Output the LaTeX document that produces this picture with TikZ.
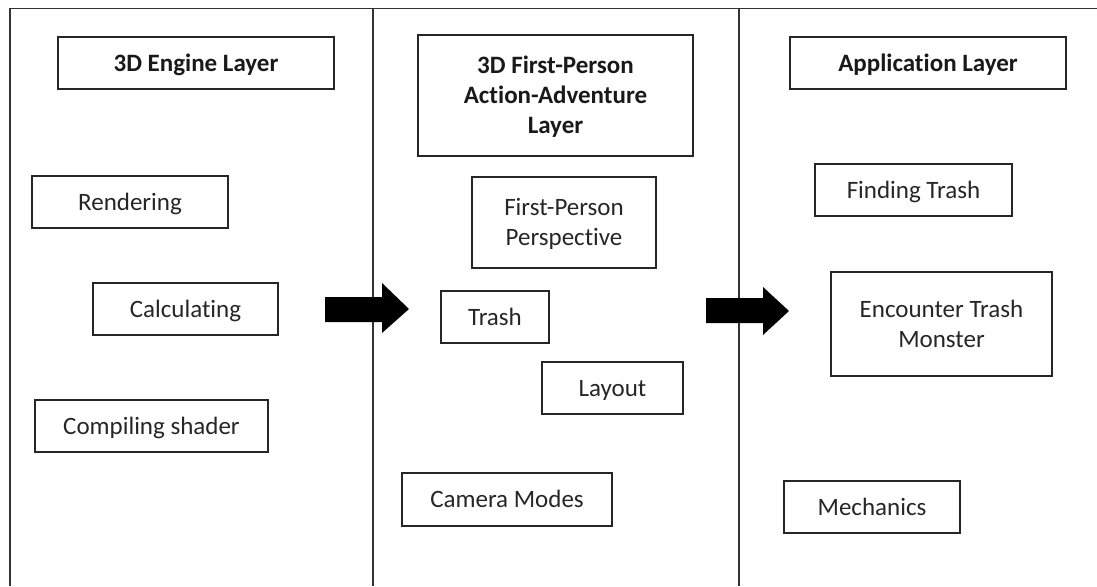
\documentclass[tikz,border=0pt]{standalone}
\usepackage{fontspec}
\setmainfont{Carlito}[Ligatures=NoCommon]
\begin{document}
\begin{tikzpicture}[x=1pt,y=-1pt,
  box/.style={draw=black!85, line width=1.6pt, inner sep=0pt, align=center,
    text=black!85, text height=16pt, text depth=0pt, font=\fontsize{25}{30}\selectfont},
  hbox/.style={box, text=black!90, font=\fontsize{25}{30}\selectfont\bfseries},
  twoline/.style={text height=46pt},
  threeline/.style={text height=76pt},
  framecol/.style={draw=black!80, line width=1.6pt},
  blockarrow/.style={fill=black}]
\useasboundingbox (0,0) rectangle (1097,586);

% frame and column dividers
\draw[framecol] (10,586) -- (10,8.5) -- (1097,8.5);
\draw[framecol] (373,8.5) -- (373,586);
\draw[framecol] (739,8.5) -- (739,586);

% block arrows
\fill[blockarrow] (325,297) -- (382,297) -- (382,283) -- (409,309) -- (382,333) -- (382,322) -- (325,322) -- cycle;
\fill[blockarrow] (706,298) -- (763,298) -- (763,287) -- (789,311) -- (763,335) -- (763,323) -- (706,323) -- cycle;

% column 1
\node[hbox, minimum width=276, minimum height=52] (eng) at (196,63) {3D Engine Layer};
\node[box, minimum width=196, minimum height=52] (rend) at (130,202) {Rendering};
\node[box, minimum width=185, minimum height=52] (calc) at (185.5,309) {Calculating};
\node[box, minimum width=233, minimum height=52] (comp) at (151.5,426) {Compiling shader};

% column 2
\node[hbox, threeline, minimum width=275, minimum height=121] (fpa) at (555.5,95.5) {3D First-Person\\Action-Adventure\\Layer};
\node[box, twoline, minimum width=184, minimum height=91] (fpp) at (564,222.5) {First-Person\\Perspective};
\node[box, minimum width=108, minimum height=52] (trash) at (495,317) {Trash};
\node[box, minimum width=141, minimum height=52] (layout) at (612.5,388) {Layout};
\node[box, minimum width=210, minimum height=53] (cam) at (507,499.5) {Camera Modes};

% column 3
\node[hbox, minimum width=276, minimum height=52] (app) at (928,63) {Application Layer};
\node[box, minimum width=197, minimum height=52] (find) at (913.5,190) {Finding Trash};
\node[box, twoline, minimum width=221, minimum height=104] (enc) at (941.5,324) {Encounter Trash\\Monster};
\node[box, minimum width=176, minimum height=52] (mech) at (872,507) {Mechanics};
\end{tikzpicture}
\end{document}
